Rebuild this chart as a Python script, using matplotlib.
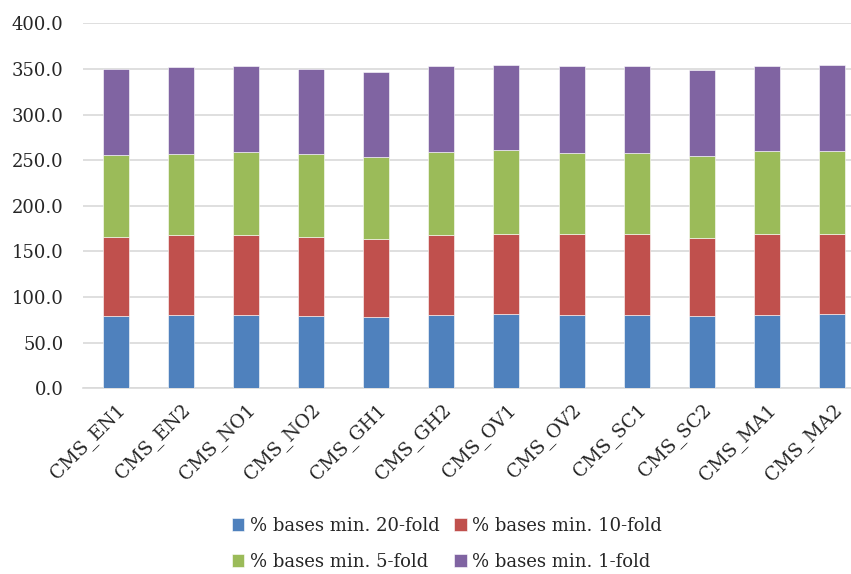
import matplotlib.pyplot as plt
import numpy as np

plt.rcParams['font.family'] = ['DejaVu Serif']

amostras = ['CMS_EN1', 'CMS_EN2', 'CMS_NO1', 'CMS_NO2', 'CMS_GH1', 'CMS_GH2',
            'CMS_OV1', 'CMS_OV2', 'CMS_SC1', 'CMS_SC2', 'CMS_MA1', 'CMS_MA2']

# parcela de cada faixa de cobertura (empilhadas)
min_20x = [79.7, 80.4, 80.4, 79.7, 78.2, 80.4, 81.9, 80.4, 80.4, 79.3, 80.4, 81.9]
min_10x = [86.6, 87.4, 87.4, 86.6, 85.6, 87.4, 87.1, 88.6, 88.6, 85.6, 88.6, 87.1]
min_5x = [89.3, 89.3, 90.7, 90.8, 89.6, 90.7, 92.1, 89.2, 89.2, 89.2, 90.6, 90.6]
min_1x = [94.4, 94.7, 94.8, 93.2, 93.3, 94.8, 93.3, 95.1, 95.1, 95.1, 93.7, 94.8]

series = [
    ('% bases min. 20-fold', min_20x, '#4F81BD'),
    ('% bases min. 10-fold', min_10x, '#C0504D'),
    ('% bases min. 5-fold', min_5x, '#9BBB59'),
    ('% bases min. 1-fold', min_1x, '#8064A2'),
]

fig = plt.figure(figsize=(8.51, 5.74), dpi=100)
ax = fig.add_axes([83 / 851, 1 - 388.3 / 574, 1 - 83 / 851, (388.3 - 23.3) / 574])

x = np.arange(len(amostras))
base = np.zeros(len(amostras))
barras = {}
for nome, valores, cor in series:
    barras[nome] = ax.bar(x, valores, 0.4, bottom=base, color=cor,
                          edgecolor='#FFFFFF', linewidth=0.4, label=nome, zorder=3)
    base += np.array(valores)

ax.set_ylim(0, 400)
ax.set_yticks(np.arange(0, 401, 50))
ax.set_yticklabels([f'{v:.1f}' for v in np.arange(0, 401, 50)], fontsize=13, color='#262626')
ax.set_xlim(-0.5, 11.29)
ax.set_xticks(x)
ax.set_xticklabels(amostras, rotation=45, ha='right', rotation_mode='anchor',
                   fontsize=13.5, color='#262626')
ax.tick_params(axis='y', length=0, pad=14)
ax.tick_params(axis='x', length=0, pad=9)

ax.grid(axis='y', color='#D9D9D9', linewidth=1.2, zorder=0)
for lado in ['top', 'right', 'left']:
    ax.spines[lado].set_visible(False)
ax.spines['bottom'].set_color('#D9D9D9')
ax.spines['bottom'].set_linewidth(1.2)

# legenda em duas linhas: 20/10 em cima, 5/1 embaixo
ordem = ['% bases min. 20-fold', '% bases min. 5-fold',
         '% bases min. 10-fold', '% bases min. 1-fold']
fig.legend([barras[n] for n in ordem], ordem, ncol=2, loc='center',
           bbox_to_anchor=(0.525, 0.053), frameon=False, fontsize=13,
           handlelength=0.7, handleheight=0.7, handletextpad=0.3,
           columnspacing=0.8, labelspacing=1.0, labelcolor='#262626')

fig.savefig('out.png', dpi=100)
